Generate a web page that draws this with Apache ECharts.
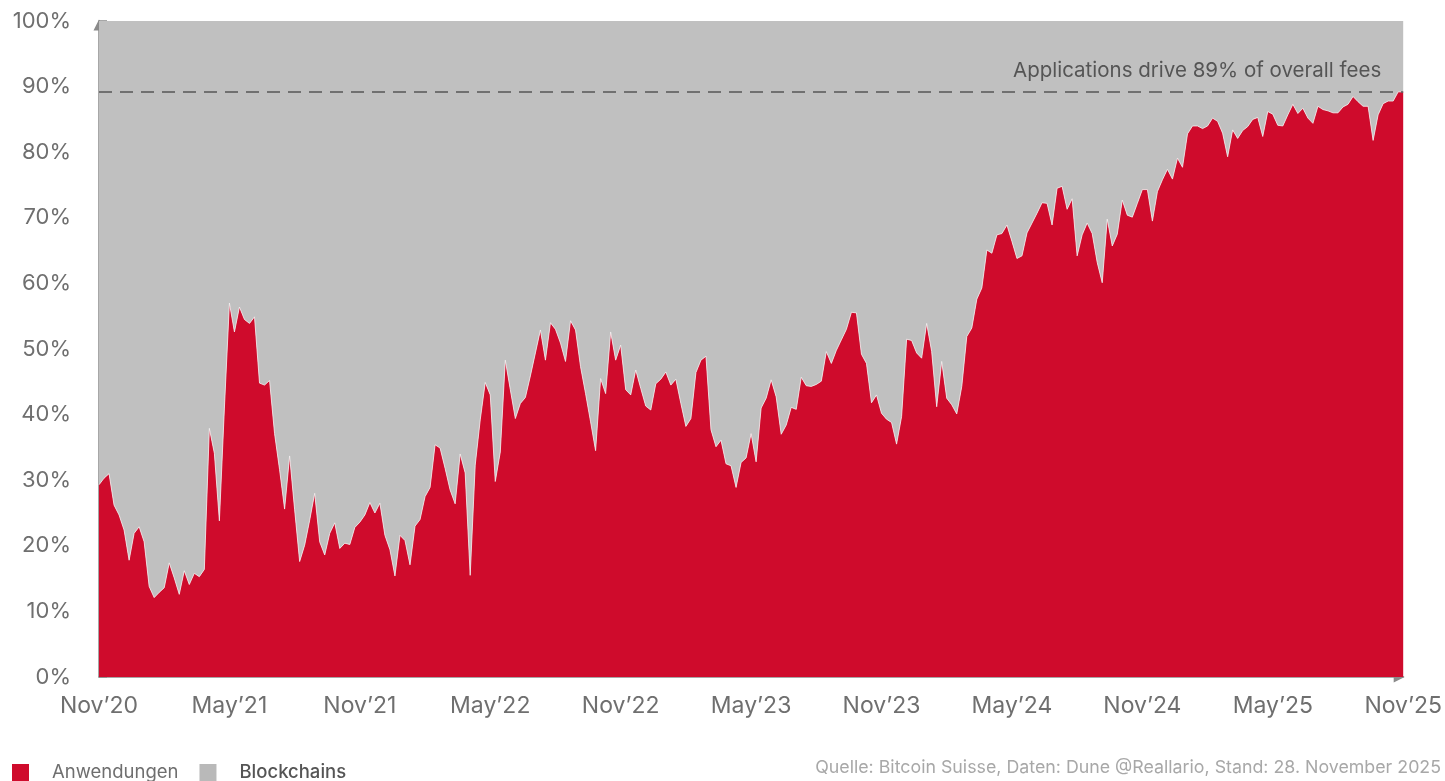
<!DOCTYPE html>
<html>
<head>
<meta charset="utf-8">
<script src="https://cdn.jsdelivr.net/npm/echarts@6/dist/echarts.min.js"></script>
<style>
  html, body { margin: 0; padding: 0; background: #fff; }
  #chart { width: 1445px; height: 781px; }
</style>
</head>
<body>
<div id="chart"></div>
<script>
// x axis tick labels, one every 26 weeks
var tickLabels = ['Nov’20', 'May’21', 'Nov’21', 'May’22', 'Nov’22', 'May’23', 'Nov’23', 'May’24', 'Nov’24', 'May’25', 'Nov’25'];

// share of fees paid to applications (weekly, %)
var anwendungen = [
  29.3, 30.3, 31.0, 26.2, 24.7, 22.4, 17.8, 21.9, 22.9, 20.6,
  13.8, 12.1, 12.9, 13.6, 17.4, 15.1, 12.6, 16.2, 14.1, 15.8,
  15.3, 16.4, 37.9, 34.1, 23.8, 41.0, 57.0, 52.6, 56.4, 54.5,
  53.9, 54.9, 44.8, 44.5, 45.2, 37.1, 31.6, 25.6, 33.7, 25.5,
  17.6, 20.1, 23.9, 28.0, 20.6, 18.6, 21.9, 23.5, 19.6, 20.4,
  20.2, 22.8, 23.6, 24.7, 26.6, 25.0, 26.5, 21.6, 19.4, 15.4,
  21.6, 20.8, 17.1, 23.0, 24.0, 27.5, 28.9, 35.4, 34.9, 31.8,
  28.5, 26.4, 34.0, 31.1, 15.5, 32.3, 39.2, 44.9, 43.0, 29.8,
  34.3, 48.3, 43.8, 39.4, 41.7, 42.6, 45.9, 49.4, 52.9, 48.3,
  54.0, 53.0, 50.9, 48.1, 54.3, 52.9, 47.3, 43.2, 38.9, 34.5,
  45.5, 43.2, 52.6, 48.3, 50.6, 43.8, 43.0, 46.8, 44.0, 41.3,
  40.7, 44.7, 45.4, 46.5, 44.5, 45.4, 41.7, 38.2, 39.4, 46.4,
  48.3, 48.9, 37.7, 35.1, 36.1, 32.5, 32.2, 28.9, 32.7, 33.4,
  37.1, 32.8, 41.0, 42.5, 45.3, 42.7, 37.0, 38.4, 41.1, 40.8,
  45.7, 44.4, 44.3, 44.6, 45.1, 49.6, 47.8, 49.8, 51.4, 53.0,
  55.6, 55.5, 49.2, 47.8, 41.8, 43.0, 40.2, 39.3, 38.8, 35.5,
  39.7, 51.5, 51.3, 49.4, 48.6, 53.9, 49.6, 41.2, 48.1, 42.5,
  41.5, 40.1, 44.3, 51.9, 53.2, 57.6, 59.3, 65.1, 64.6, 67.4,
  67.6, 68.9, 66.4, 63.8, 64.2, 67.7, 69.2, 70.7, 72.3, 72.2,
  68.9, 74.5, 74.8, 71.3, 72.9, 64.2, 67.4, 69.2, 67.6, 63.2,
  60.1, 69.8, 65.7, 67.5, 72.7, 70.4, 70.1, 72.2, 74.3, 74.3,
  69.5, 74.0, 75.8, 77.4, 75.9, 79.1, 77.7, 82.8, 84.0, 84.0,
  83.6, 84.0, 85.2, 84.7, 82.9, 79.3, 83.4, 82.1, 83.3, 83.9,
  85.0, 85.3, 82.4, 86.2, 85.8, 84.1, 84.0, 85.7, 87.3, 85.9,
  86.7, 85.2, 84.4, 87.0, 86.5, 86.3, 86.0, 86.0, 86.9, 87.3,
  88.5, 87.7, 87.0, 87.0, 81.8, 85.7, 87.4, 87.8, 87.8, 89.2,
  89.2
];

// the rest of the fees goes to the blockchains themselves (shares add up to 100%)
var blockchains = anwendungen.map(function (v) { return +(100 - v).toFixed(1); });

// one category per week
var weeks = [];
var d0 = new Date(Date.UTC(2020, 10, 30));
for (var i = 0; i < anwendungen.length; i++) {
  var d = new Date(d0.getTime() + i * 7 * 86400000);
  weeks.push(d.toISOString().slice(0, 10));
}

var annotationText = 'Applications drive 89% of overall fees';
var sourceText = 'Quelle: Bitcoin Suisse, Daten: Dune @Reallario, Stand: 28. November 2025';

var RED = '#cf0b2c';
var GREY = '#c0c0c0';
var FONT = 'Inter';

var chart = echarts.init(document.getElementById('chart'));

var option = {
  animation: false,
  textStyle: { fontFamily: FONT },
  grid: {
    left: 99,
    right: 41,
    top: 21,
    bottom: 104
  },
  legend: {
    left: 12,
    top: 763,
    padding: 0,
    itemWidth: 17,
    itemHeight: 17,
    itemGap: 21,
    icon: 'rect',
    textStyle: { fontSize: 18.5, color: '#6f6f6f', padding: [0, 0, 0, 18] },
    data: [
      { name: 'Anwendungen' },
      { name: 'Blockchains', textStyle: { color: '#555', fontWeight: 500 } }
    ]
  },
  xAxis: {
    type: 'category',
    data: weeks,
    boundaryGap: false,
    axisLine: {
      lineStyle: { color: '#8a8a8a', width: 1.5 },
      symbol: ['none', 'triangle'],
      symbolSize: [11, 11],
      symbolOffset: [0, -4]
    },
    axisTick: { show: false },
    axisLabel: {
      interval: function (index) { return index % 26 === 0; },
      formatter: function (value, index) { return tickLabels[Math.round(index / 26)]; },
      color: '#6f6f6f',
      fontSize: 23,
      margin: 18
    },
    splitLine: { show: false }
  },
  yAxis: {
    type: 'value',
    min: 0,
    max: 100,
    interval: 10,
    axisLine: {
      show: true,
      lineStyle: { color: '#8a8a8a', width: 1.5 },
      symbol: ['none', 'triangle'],
      symbolSize: [11, 11],
      symbolOffset: [0, -4]
    },
    axisTick: {
      show: true,
      inside: true,
      length: 8,
      lineStyle: { color: '#8a8a8a', width: 1.5 }
    },
    axisLabel: {
      formatter: '{value}%',
      color: '#6f6f6f',
      fontSize: 22,
      margin: 28
    },
    splitLine: { show: false }
  },
  series: [
    {
      name: 'Anwendungen',
      type: 'line',
      stack: 'fees',
      data: anwendungen,
      symbol: 'none',
      itemStyle: { color: RED },
      lineStyle: { width: 0.8, color: '#f2f2f2' },
      areaStyle: { color: RED, opacity: 1 },
      z: 3,
      markLine: {
        silent: true,
        symbol: 'none',
        lineStyle: { color: '#555', type: [13, 8], width: 1.5 },
        label: {
          show: true,
          position: 'insideEndTop',
          formatter: annotationText,
          color: '#555',
          fontSize: 20.5,
          distance: [22, 11]
        },
        data: [{ yAxis: anwendungen[anwendungen.length - 1] }]
      }
    },
    {
      name: 'Blockchains',
      type: 'line',
      stack: 'fees',
      data: blockchains,
      symbol: 'none',
      itemStyle: { color: '#b9b9b9' },
      lineStyle: { width: 0 },
      areaStyle: { color: GREY, opacity: 1 },
      z: 2
    }
  ],
  graphic: [
    {
      type: 'text',
      right: 4,
      top: 759,
      style: {
        text: sourceText,
        fill: '#a8a8a8',
        fontSize: 17.8,
        fontFamily: FONT
      }
    }
  ]
};

chart.setOption(option);
</script>
</body>
</html>
